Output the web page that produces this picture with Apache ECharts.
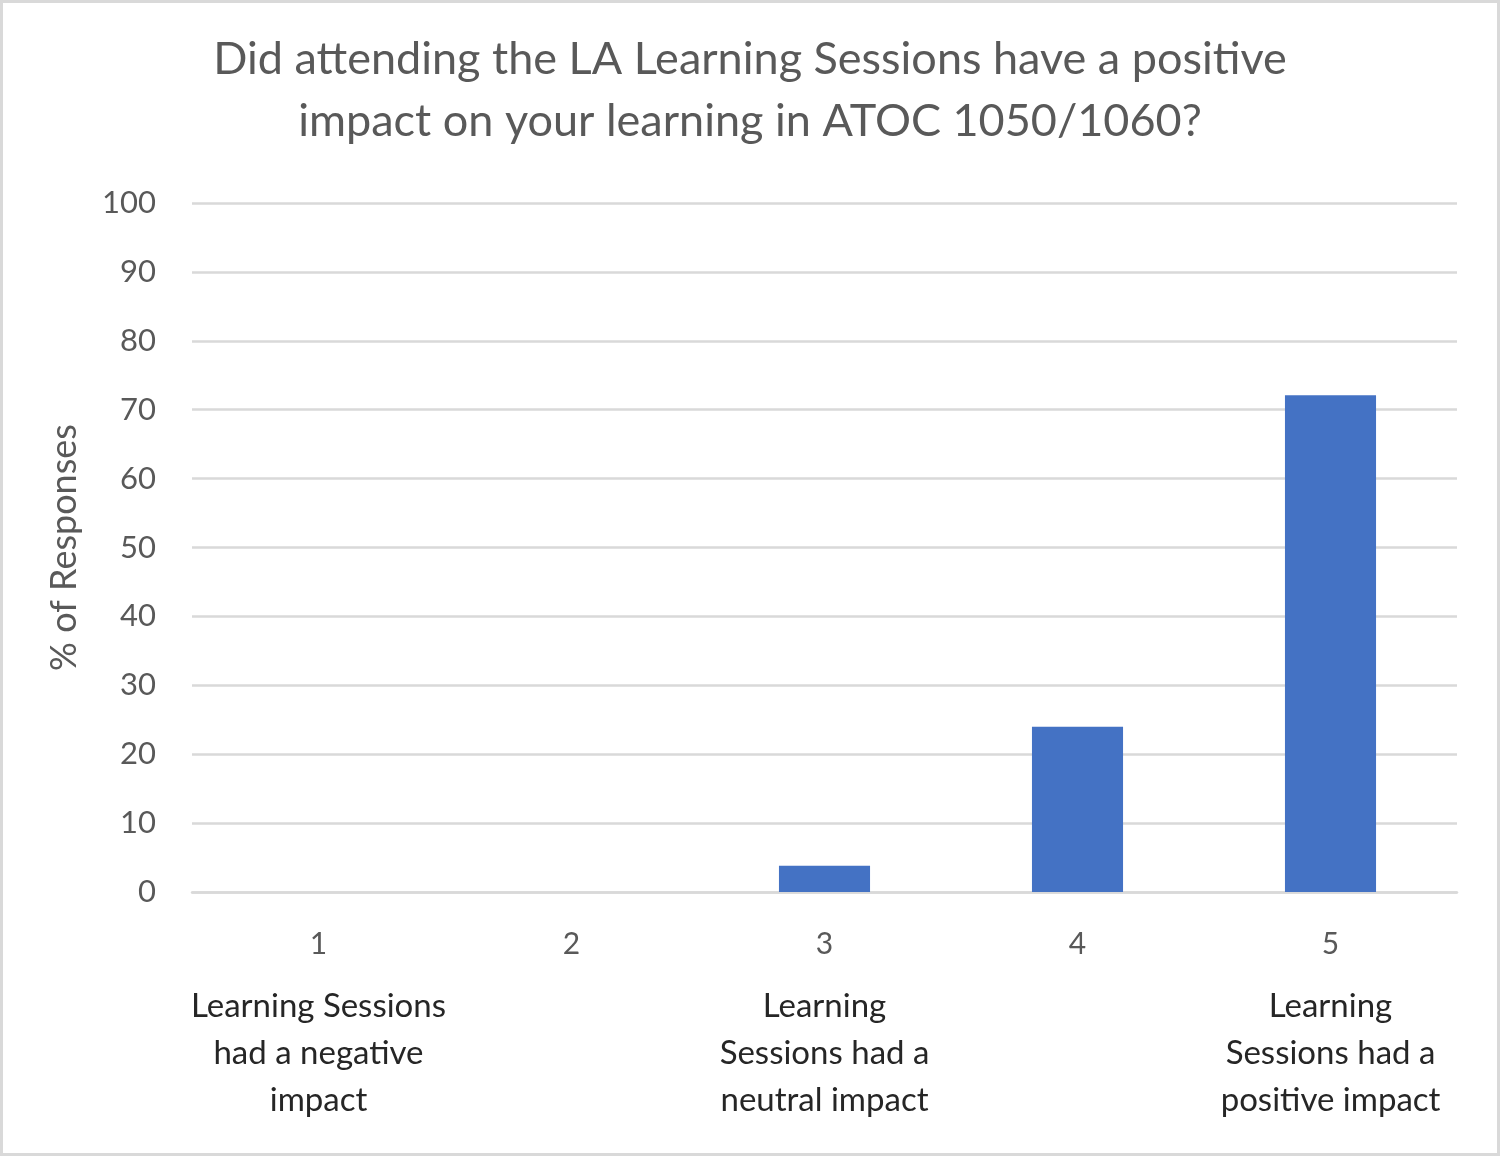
<!DOCTYPE html>
<html>
<head>
<meta charset="utf-8">
<script src="https://cdn.jsdelivr.net/npm/echarts@6/dist/echarts.min.js"></script>
<style>
html,body{margin:0;padding:0;background:#fff;}
#c{width:1500px;height:1156px;box-sizing:border-box;border:3px solid #d9d9d9;}
</style>
</head>
<body>
<div id="c"></div>
<script>
var categories = ['1', '2', '3', '4', '5'];
var categoryDescriptions = [
  'Learning Sessions\nhad a negative\nimpact',
  '',
  'Learning\nSessions had a\nneutral impact',
  '',
  'Learning\nSessions had a\npositive impact'
];
var responses = [0, 0, 3.8, 24.0, 72.1];
var yTicks = { min: 0, max: 100, interval: 10 };
var titleText = 'Did attending the LA Learning Sessions have a positive\nimpact on your learning in ATOC 1050/1060?';
var yAxisTitle = '% of Responses';

var chart = echarts.init(document.getElementById('c'));
var font = 'Lato, "Open Sans", sans-serif';
chart.setOption({
  animation: false,
  title: {
    text: titleText,
    left: 'center',
    top: 20,
    textStyle: { fontFamily: font, fontSize: 45, fontWeight: 'normal', color: '#595959', lineHeight: 62 }
  },
  grid: { left: 189, right: 40, top: 200, bottom: 261 },
  xAxis: {
    type: 'category',
    data: categories,
    axisLine: { lineStyle: { color: '#d9d9d9', width: 2.5 } },
    axisTick: { show: false },
    axisLabel: {
      margin: 14,
      interval: 0,
      formatter: function (v, i) {
        var d = categoryDescriptions[i];
        return '{n|' + v + '}' + (d ? '\n{t|' + d + '}' : '');
      },
      rich: {
        n: { fontFamily: font, fontSize: 30, color: '#595959', lineHeight: 77 },
        t: { fontFamily: font, fontSize: 33, color: '#262626', lineHeight: 47 }
      }
    }
  },
  yAxis: {
    type: 'value',
    min: yTicks.min,
    max: yTicks.max,
    interval: yTicks.interval,
    name: yAxisTitle,
    nameLocation: 'middle',
    nameGap: 110,
    nameTextStyle: { fontFamily: font, fontSize: 36, color: '#595959' },
    axisLine: { show: false },
    axisTick: { show: false },
    axisLabel: { fontFamily: font, fontSize: 31, color: '#595959', margin: 36 },
    splitLine: { lineStyle: { color: '#d9d9d9', width: 2.5 } }
  },
  series: [{
    type: 'bar',
    data: responses,
    barWidth: '36%',
    itemStyle: { color: '#4472C4' }
  }]
});
</script>
</body>
</html>
